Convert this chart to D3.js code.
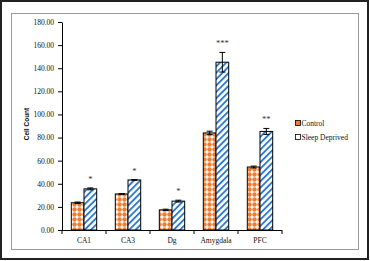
<!DOCTYPE html>
<meta charset="utf-8">
<style>
  body { margin: 0; background: #fff; }
  text { font-family: 'Liberation Serif', 'Times New Roman', serif; fill: #111; }
  .axis text { font-size: 7.5px; }
  .axis path, .axis line { stroke: #000; stroke-width: 1px; }
  text.ylabel { font-family: 'Liberation Sans', Arial, sans-serif; font-weight: bold; font-size: 6.5px; }
  text.star { font-size: 8.5px; fill: #333; text-anchor: middle; }
  text.leg { font-size: 7.5px; }
</style>
<script src="https://d3js.org/d3.v7.min.js"></script>
<div id="chart"></div>
<script>
// data
var regions = ["CA1", "CA3", "Dg", "Amygdala", "PFC"];
var seriesNames = ["Control", "Sleep Deprived"];
var control = [23.6, 31.2, 17.4, 84.0, 54.5];
var controlErr = [0.6, 0.3, 0.6, 1.5, 0.8];
var deprived = [35.6, 43.3, 25.0, 145.2, 85.3];
var deprivedErr = [0.8, 0.3, 0.8, 8.5, 2.6];
var stars = ["*", "*", "*", "***", "**"];
var yTicks = [0, 20, 40, 60, 80, 100, 120, 140, 160, 180];

var W = 370, H = 261;
var margin = {top: 22, left: 62},
    width = 220, height = 208;

var svg = d3.select("#chart").append("svg")
    .attr("width", W).attr("height", H);

var defs = svg.append("defs");

// orange checker-dot fill
var p1 = defs.append("pattern").attr("id", "ctrlPat")
    .attr("patternUnits", "userSpaceOnUse")
    .attr("width", 5).attr("height", 5);
p1.append("rect").attr("width", 5).attr("height", 5).attr("fill", "#fff");
p1.append("circle").attr("cx", 2.5).attr("cy", 2.5).attr("r", 2.2).attr("fill", "#ED7D31");

// blue diagonal stripes
var p2 = defs.append("pattern").attr("id", "sdPat")
    .attr("patternUnits", "userSpaceOnUse")
    .attr("width", 4.5).attr("height", 4.5)
    .attr("patternTransform", "rotate(45)");
p2.append("rect").attr("width", 4.5).attr("height", 4.5).attr("fill", "#fff");
p2.append("rect").attr("width", 1.9).attr("height", 4.5).attr("fill", "#2E7BD0");

// frames
svg.append("rect").attr("x", 1).attr("y", 1).attr("width", 367).attr("height", 258)
    .attr("fill", "none").attr("stroke", "#222").attr("stroke-width", 2);
svg.append("rect").attr("x", 11.5).attr("y", 13.5).attr("width", 347).attr("height", 236)
    .attr("fill", "none").attr("stroke", "#9a9a9a").attr("stroke-width", 1);

var g = svg.append("g").attr("transform", "translate(" + margin.left + "," + margin.top + ")");

var x = d3.scaleBand().domain(regions).range([0, width]);
var x1 = d3.scaleBand().domain(seriesNames).range([x.bandwidth() / 2 - 12.7, x.bandwidth() / 2 + 12.7]);
var y = d3.scaleLinear().domain([0, 180]).range([height, 0]);

// y axis
g.append("g").attr("class", "axis")
    .call(d3.axisLeft(y).tickValues(yTicks).tickFormat(d3.format(".2f")).tickSize(4).tickSizeOuter(0))
    .call(function(s) { s.selectAll("text").attr("x", -8); });

// x axis with dividers between categories
var xa = g.append("g").attr("class", "axis").attr("transform", "translate(0," + height + ")");
xa.append("line").attr("x1", 0).attr("x2", width).attr("y1", 0.5).attr("y2", 0.5).attr("stroke", "#000");
xa.selectAll(".div").data(d3.range(regions.length + 1)).enter().append("line")
    .attr("x1", function(i) { return i * x.step(); })
    .attr("x2", function(i) { return i * x.step(); })
    .attr("y1", 0).attr("y2", 4).attr("stroke", "#000");
xa.selectAll(".lab").data(regions).enter().append("text")
    .attr("x", function(d) { return x(d) + x.bandwidth() / 2; })
    .attr("y", 12.5).attr("text-anchor", "middle").text(function(d) { return d; });

// bars
var rows = regions.map(function(r, i) {
  return [
    {region: r, s: seriesNames[0], v: control[i], e: controlErr[i], fill: "url(#ctrlPat)"},
    {region: r, s: seriesNames[1], v: deprived[i], e: deprivedErr[i], fill: "url(#sdPat)"}
  ];
});
var flat = [].concat.apply([], rows);

g.selectAll(".bar").data(flat).enter().append("rect")
    .attr("x", function(d) { return x(d.region) + x1(d.s); })
    .attr("y", function(d) { return y(d.v); })
    .attr("width", x1.bandwidth())
    .attr("height", function(d) { return height - y(d.v); })
    .attr("fill", function(d) { return d.fill; })
    .attr("stroke", "#000").attr("stroke-width", 1);

// error bars
var eb = g.selectAll(".err").data(flat).enter().append("g")
    .attr("transform", function(d) { return "translate(" + (x(d.region) + x1(d.s) + x1.bandwidth() / 2) + ",0)"; });
eb.append("line").attr("x1", 0).attr("x2", 0)
    .attr("y1", function(d) { return y(d.v + d.e); })
    .attr("y2", function(d) { return y(d.v - d.e); })
    .attr("stroke", "#000");
eb.append("line").attr("x1", -3).attr("x2", 3)
    .attr("y1", function(d) { return y(d.v + d.e); })
    .attr("y2", function(d) { return y(d.v + d.e); })
    .attr("stroke", "#000");
eb.append("line").attr("x1", -3).attr("x2", 3)
    .attr("y1", function(d) { return y(d.v - d.e); })
    .attr("y2", function(d) { return y(d.v - d.e); })
    .attr("stroke", "#000");

// significance stars over sleep deprived bars
g.selectAll(".star").data(regions).enter().append("text")
    .attr("class", "star")
    .attr("x", function(d) { return x(d) + x1(seriesNames[1]) + x1.bandwidth() / 2; })
    .attr("y", function(d, i) { return y(deprived[i] + deprivedErr[i]) - 6; })
    .text(function(d, i) { return stars[i]; });

// y label
svg.append("text").attr("class", "ylabel")
    .attr("transform", "translate(29,124) rotate(-90)")
    .attr("text-anchor", "middle")
    .text("Cell Count");

// legend
var leg = svg.append("g").attr("transform", "translate(295,120)");
seriesNames.forEach(function(n, i) {
  var row = leg.append("g").attr("transform", "translate(0," + i * 14 + ")");
  row.append("rect").attr("x", 0.5).attr("y", 0.5).attr("width", 5).attr("height", 5)
      .attr("fill", i === 0 ? "#ED7D31" : "#fff").attr("stroke", "#000").attr("stroke-width", 0.8);
  row.append("text").attr("class", "leg").attr("x", 6.5).attr("y", 6).text(n);
});
</script>
